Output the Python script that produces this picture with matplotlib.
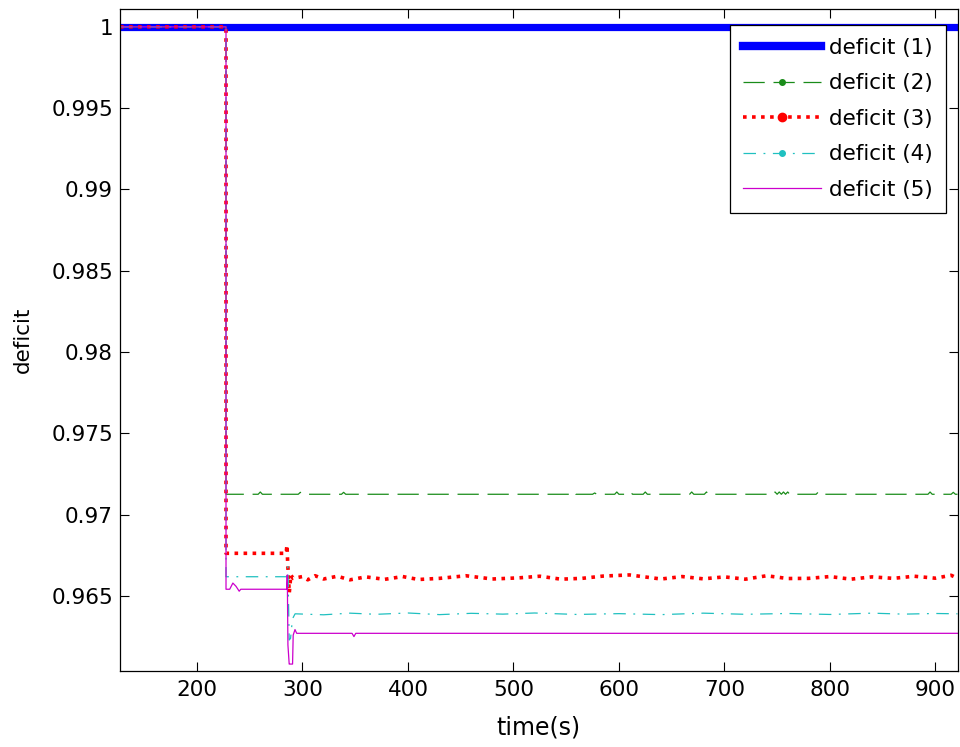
import matplotlib
matplotlib.use("Agg")
import matplotlib.pyplot as plt
from matplotlib.lines import Line2D

plt.rcParams['font.family'] = ['DejaVu Sans']

# ---------------- data ----------------
labels = ['deficit (1)', 'deficit (2)', 'deficit (3)', 'deficit (4)', 'deficit (5)']

t1 = [127, 921]
d1 = [1.0, 1.0]

t2 = [127, 227.5, 227.5, 258, 260, 262, 296, 298, 300, 337, 339, 341,
      555, 557, 559, 575, 577, 579, 596, 598, 600, 609, 611, 613,
      623, 625, 627, 667, 669, 671, 681, 683, 685,
      746, 748, 750, 752, 754, 756, 758, 760, 762,
      787, 789, 791, 893, 895, 897, 915, 917, 919, 921]
d2 = [1.0, 1.0, 0.97126, 0.97126, 0.97140, 0.97126, 0.97126, 0.97138, 0.97126,
      0.97126, 0.97138, 0.97126,
      0.97126, 0.97140, 0.97126, 0.97126, 0.97134, 0.97126, 0.97126, 0.97140, 0.97126,
      0.97126, 0.97138, 0.97126,
      0.97126, 0.97140, 0.97126, 0.97126, 0.97140, 0.97126, 0.97126, 0.97140, 0.97126,
      0.97126, 0.97140, 0.97126, 0.97140, 0.97126, 0.97140, 0.97126, 0.97140, 0.97126,
      0.97126, 0.97140, 0.97126, 0.97126, 0.97140, 0.97126, 0.97126, 0.97138, 0.97126, 0.97126]

t3 = [127, 227.5, 227.5, 284.5, 285.3, 286.0, 287.5, 289.0, 291.0,
      300, 305, 312, 320, 333, 345, 360, 378, 395, 410, 430, 455, 480,
      505, 525, 545, 565, 585, 610, 640, 660, 680, 700, 720, 740, 760,
      780, 800, 820, 840, 860, 880, 900, 915, 921]
d3 = [1.0, 1.0, 0.96763, 0.96763, 0.96814, 0.96700, 0.96520, 0.96630, 0.96609,
      0.96620, 0.96600, 0.96625, 0.96605, 0.96622, 0.96600, 0.96618, 0.96603, 0.96620,
      0.96602, 0.96609, 0.96625, 0.96605, 0.96612, 0.96622, 0.96604, 0.96609, 0.96623,
      0.96630, 0.96605, 0.96620, 0.96606, 0.96618, 0.96604, 0.96625, 0.96608, 0.96609,
      0.96620, 0.96604, 0.96618, 0.96609, 0.96622, 0.96610, 0.96628, 0.96609]

t4 = [127, 227.5, 227.5, 285.0, 286.2, 287.4, 288.7, 290.5, 293.0,
      320, 345, 370, 400, 430, 460, 490, 520, 560, 600, 640, 680, 720,
      760, 800, 840, 870, 900, 921]
d4 = [1.0, 1.0, 0.96619, 0.96619, 0.96680, 0.96230, 0.96240, 0.96360, 0.96391,
      0.96385, 0.96395, 0.96388, 0.96396, 0.96386, 0.96394, 0.96389, 0.96396, 0.96387,
      0.96392, 0.96386, 0.96395, 0.96388, 0.96393, 0.96387, 0.96395, 0.96389, 0.96393, 0.96391]

t5 = [127, 227.5, 227.5, 231.0, 234.0, 237.0, 240.0, 241.5, 285.0, 285.6,
      286.2, 287.4, 288.0, 290.6, 291.2, 292.9, 294.5, 347, 348.8, 350.5, 921]
d5 = [1.0, 1.0, 0.96542, 0.96542, 0.96580, 0.96560, 0.96530, 0.96542, 0.96542, 0.96630,
      0.96200, 0.96082, 0.96082, 0.96082, 0.96260, 0.96294, 0.96271, 0.96271,
      0.96251, 0.96271, 0.96271]

x_ticks = [200, 300, 400, 500, 600, 700, 800, 900]
y_ticks = [0.965, 0.97, 0.975, 0.98, 0.985, 0.99, 0.995, 1.0]
y_tick_labels = ['0.965', '0.97', '0.975', '0.98', '0.985', '0.99', '0.995', '1']

# ---------------- figure ----------------
fig = plt.figure(figsize=(9.6, 7.47), dpi=100)
ax = fig.add_axes([0.125, 0.1021, 0.8724, 0.8859])

styles = [
    dict(color='#0000ff', lw=5.2, ls='-', marker=None, ms=0),
    dict(color='#1a8c1a', lw=0.9, ls=(0, (17, 7)), marker='.', ms=8),
    dict(color='#ff0000', lw=2.6, ls=(0, (1.0, 1.5)), marker='.', ms=12),
    dict(color='#20c0c0', lw=0.9, ls=(0, (10, 6, 1.5, 6)), marker='.', ms=8),
    dict(color='#cc00cc', lw=0.9, ls='-', marker=None, ms=0),
]
series = [(t1, d1), (t2, d2), (t3, d3), (t4, d4), (t5, d5)]

for (t, d), st in zip(series, styles):
    ax.plot(t, d, color=st['color'], lw=st['lw'], ls=st['ls'])

handles = []
for st, lab in zip(styles, labels):
    handles.append(Line2D([], [], color=st['color'], lw=st['lw'] if st['lw'] < 5 else 6,
                          ls=st['ls'], marker=st['marker'], ms=st['ms'],
                          markerfacecolor=st['color'], markeredgecolor=st['color'],
                          label=lab))

ax.set_xlim(127, 921)
ax.set_ylim(0.96041, 1.0011)
ax.set_xticks(x_ticks)
ax.set_yticks(y_ticks)
ax.set_yticklabels(y_tick_labels)
ax.tick_params(direction='in', length=6.5, width=0.8, top=True, right=True,
               labelsize=15.5, colors='black')
ax.tick_params(axis='x', pad=7)
ax.tick_params(axis='y', pad=5)
for s in ax.spines.values():
    s.set_linewidth(0.9)

ax.set_xlabel('time(s)', fontsize=17, labelpad=11)
ax.set_ylabel('deficit', fontsize=15.5, labelpad=13)

leg = ax.legend(handles=handles, loc='upper right', bbox_to_anchor=(0.9863, 0.9758),
                borderaxespad=0, fontsize=15.5, numpoints=1, handlelength=3.6,
                labelspacing=0.72, handletextpad=0.4, borderpad=0.6,
                fancybox=False, framealpha=1, edgecolor='black')
leg.get_frame().set_linewidth(0.9)

fig.savefig('out.png', dpi=100)
